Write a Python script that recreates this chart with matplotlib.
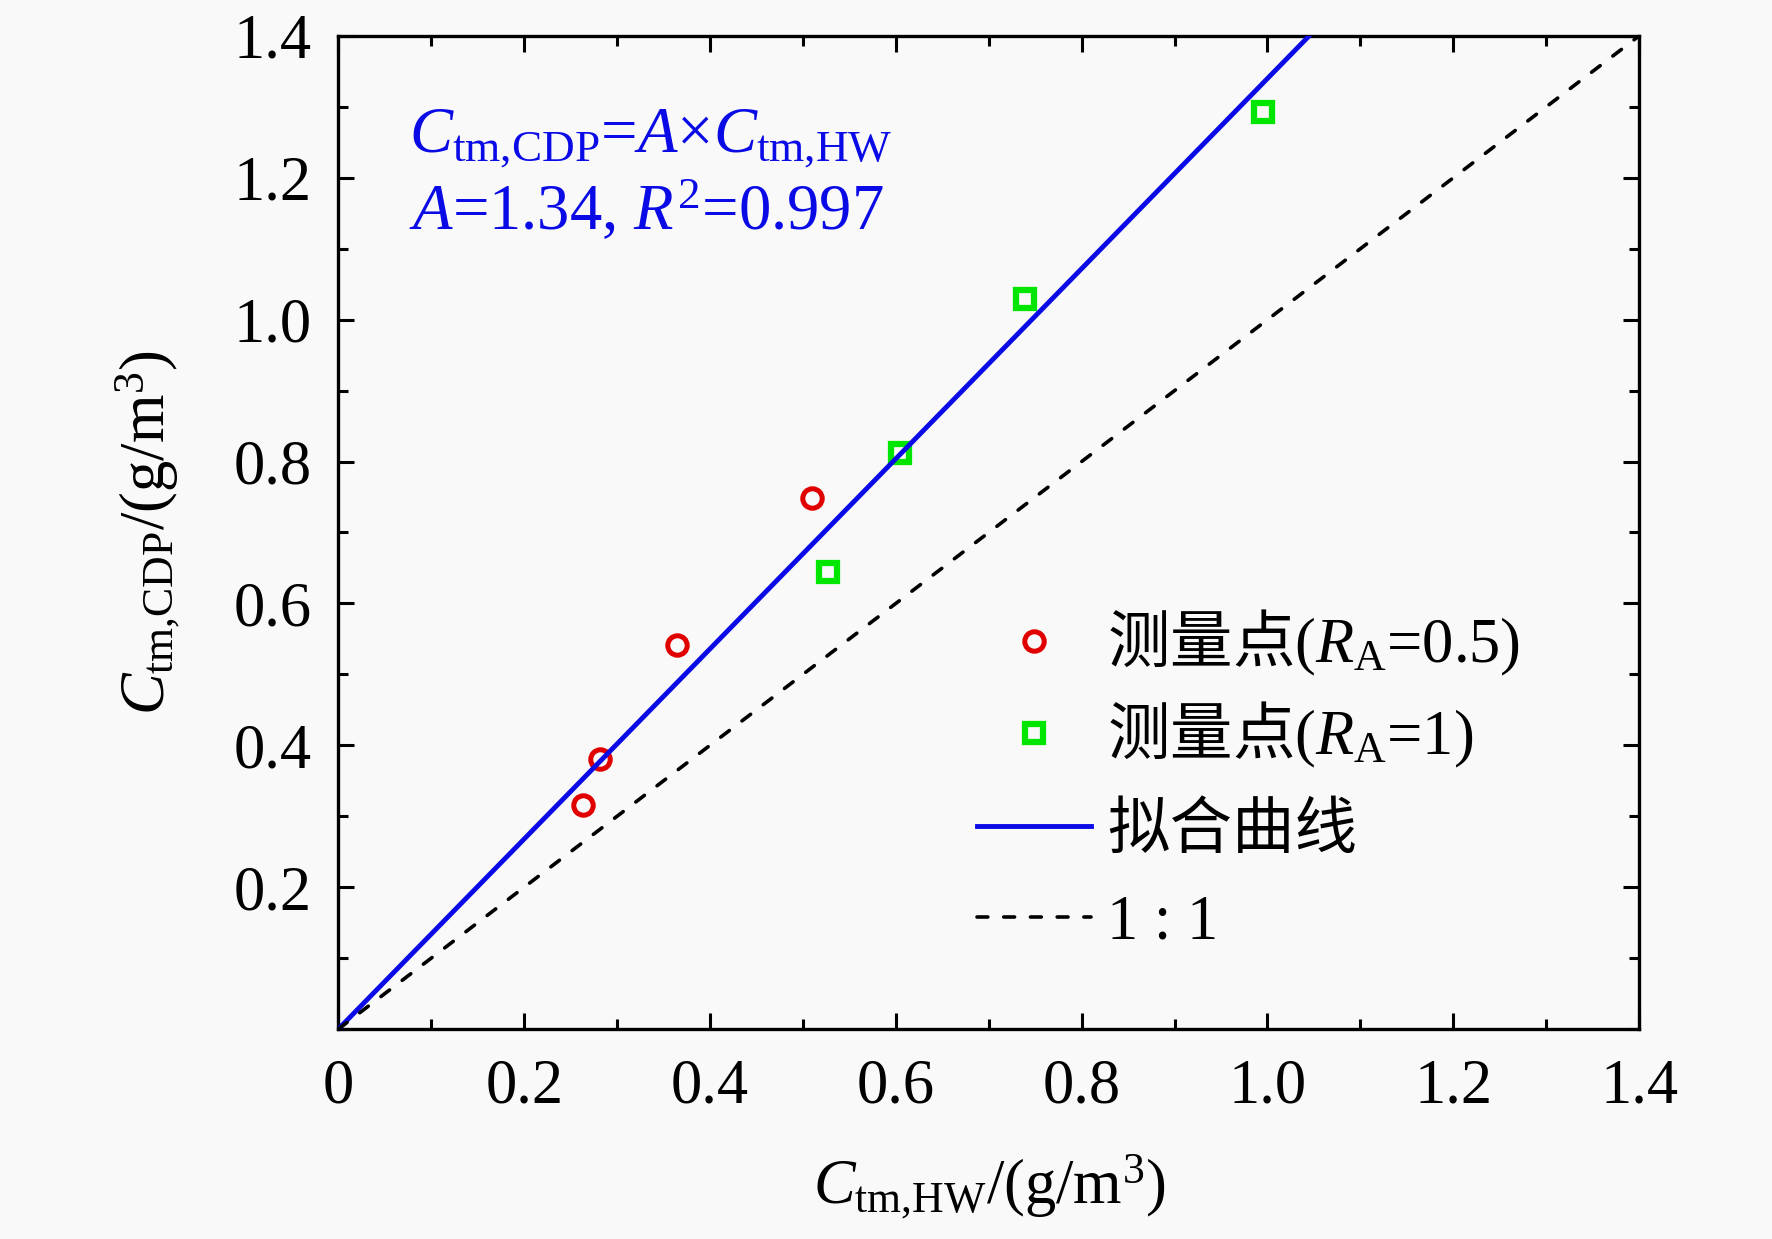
import matplotlib
matplotlib.use("Agg")
import matplotlib.pyplot as plt
from matplotlib.ticker import FixedLocator, MultipleLocator

plt.rcParams['font.family'] = ['Liberation Serif', 'Noto Sans CJK SC']
plt.rcParams['mathtext.fontset'] = 'custom'
plt.rcParams['mathtext.rm'] = 'Noto Sans CJK SC'
plt.rcParams['mathtext.it'] = 'Liberation Serif:italic'
plt.rcParams['mathtext.bf'] = 'Liberation Serif:bold'

# 测量点, R_A = 0.5
x_ra05 = [0.263, 0.281, 0.364, 0.510]
y_ra05 = [0.316, 0.380, 0.542, 0.748]
# 测量点, R_A = 1
x_ra1 = [0.527, 0.604, 0.739, 0.995]
y_ra1 = [0.644, 0.812, 1.029, 1.293]

# 拟合: C_CDP = A * C_HW
coef_A = 1.34
coef_R2 = 0.997
line_x = [0.0, 1.4]

x_ticks = [0, 0.2, 0.4, 0.6, 0.8, 1.0, 1.2, 1.4]
x_labels = ['0', '0.2', '0.4', '0.6', '0.8', '1.0', '1.2', '1.4']
y_ticks = [0.2, 0.4, 0.6, 0.8, 1.0, 1.2, 1.4]
y_labels = ['0.2', '0.4', '0.6', '0.8', '1.0', '1.2', '1.4']

FS = 45
BG = '#f9f9f9'
BLUE = '#0a0ae6'

fig = plt.figure(figsize=(17.72, 12.39), dpi=100, facecolor=BG)
ax = fig.add_axes([0.191, 0.1695, 0.734, 0.8015])
ax.set_facecolor(BG)

h1, = ax.plot(x_ra05, y_ra05, 'o', ms=14, mfc='none', mec='#e00000', mew=3.6,
              label=r'$\mathrm{测量点}$($R_\mathregular{A}$=0.5)', zorder=3)
h2, = ax.plot(x_ra1, y_ra1, 's', ms=12.5, mfc='none', mec='#00e600', mew=4.5,
              label=r'$\mathrm{测量点}$($R_\mathregular{A}$=1)', zorder=3)
fit_y = [coef_A * v for v in line_x]
h3, = ax.plot(line_x, fit_y, '-', color=BLUE, lw=3.5, label='拟合曲线', zorder=4)
h4, = ax.plot(line_x, line_x, '--', color='black', lw=2.6, dashes=(3.0, 4.4),
              dash_capstyle='round', label='1 : 1', zorder=4)

ax.set_xlim(0, 1.4)
ax.set_ylim(0, 1.4)
ax.xaxis.set_major_locator(FixedLocator(x_ticks))
ax.set_xticklabels(x_labels)
ax.yaxis.set_major_locator(FixedLocator(y_ticks))
ax.set_yticklabels(y_labels)
ax.xaxis.set_minor_locator(MultipleLocator(0.1))
ax.yaxis.set_minor_locator(MultipleLocator(0.1))

ax.tick_params(which='both', direction='in', top=True, right=True, width=2.2,
               labelsize=FS)
ax.tick_params(which='major', length=11.5)
ax.tick_params(which='minor', length=7)
ax.tick_params(axis='x', which='major', pad=21)
ax.tick_params(axis='y', which='major', pad=19)
for sp in ax.spines.values():
    sp.set_linewidth(2.4)

ax.set_xlabel(r'$C_\mathregular{tm{,}HW}$/(g/m$^\mathregular{3}$)', fontsize=FS)
ax.set_ylabel(r'$C_\mathregular{tm{,}CDP}$/(g/m$^\mathregular{3}$)', fontsize=FS)
ax.xaxis.set_label_coords(0.5, -0.125)
ax.yaxis.set_label_coords(-0.12, 0.5)

ax.text(0.054, 0.884, r'$C_\mathregular{tm{,}CDP}$=$A$×$C_\mathregular{tm{,}HW}$',
        transform=ax.transAxes, fontsize=46.5, color=BLUE, va='baseline')
ax.text(0.054, 0.805, r'$A$=1.34, $R^\mathregular{2}$=0.997',
        transform=ax.transAxes, fontsize=46.5, color=BLUE, va='baseline')

# 图例分两块放, 行距才能一致
leg_kw = dict(frameon=False, fontsize=FS, borderpad=0, borderaxespad=0,
              handlelength=1.82, handletextpad=0.26, numpoints=1)
leg1 = ax.legend(handles=[h1, h2], loc='upper left', bbox_to_anchor=(0.491, 0.424),
                 labelspacing=0.35, **leg_kw)
ax.add_artist(leg1)
ax.legend(handles=[h3, h4], loc='center left', bbox_to_anchor=(0.491, 0.152),
          labelspacing=0.53, **leg_kw)

fig.savefig('out.png', dpi=100, facecolor=BG)
